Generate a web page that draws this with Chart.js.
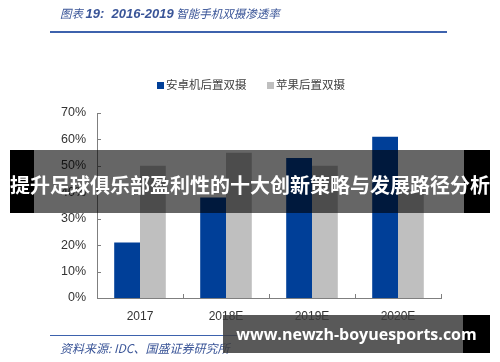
<!DOCTYPE html>
<html>
<head>
<meta charset="utf-8">
<script src="https://cdn.jsdelivr.net/npm/chart.js@4.4.1/dist/chart.umd.min.js"></script>
<style>
  html, body { margin:0; padding:0; background:#fff; }
  #wrap { position:relative; width:500px; height:362px; overflow:hidden; font-family:"Noto Sans CJK SC","Liberation Sans",sans-serif; }
  canvas { position:absolute; left:0; top:0; }
  .title { position:absolute; left:60px; top:5px; font-size:11.5px; color:#3a5598; font-style:italic; white-space:nowrap; }
  .title b { font-family:"Liberation Sans",sans-serif; font-weight:bold; font-size:13px; }
  .tline { position:absolute; left:50px; top:31px; width:397px; height:2px; background:#3d62ad; }
  .legend { position:absolute; top:76px; font-size:11.5px; color:#404040; white-space:nowrap; }
  .legend i { display:inline-block; width:7px; height:7px; margin-right:2px; vertical-align:0px; }
  .sline { position:absolute; left:50px; top:335px; width:200px; height:1px; background:#3d62ad; }
  .source { position:absolute; left:60px; top:339px; font-size:12px; color:#3a5598; font-style:italic; white-space:nowrap; }
  .band { position:absolute; left:10px; top:150px; width:480px; height:63px; background:rgba(0,0,0,0.6); }
  .bandL { position:absolute; left:10px; top:150px; width:24px; height:63px; background:#000; }
  .bandR { position:absolute; left:464px; top:150px; width:26px; height:63px; background:#000; }
  .bandText { position:absolute; left:10px; top:170px; width:480px; text-align:center; font-size:20px; font-weight:bold; color:#fff; white-space:nowrap; line-height:30px; }
  .wm { position:absolute; left:223px; top:315px; width:240px; height:38px; background:rgba(60,60,60,0.85); }
  .wmR { position:absolute; left:463px; top:315px; width:27px; height:38px; background:#000; }
  .wmText { position:absolute; left:223px; top:315px; width:267px; height:38px; line-height:38px; text-align:center; font-family:"Open Sans","DejaVu Sans",sans-serif; font-weight:bold; font-size:16px; color:#fff; white-space:nowrap; }
</style>
</head>
<body>
<div id="wrap">
  <canvas id="c" width="500" height="362"></canvas>
  <div class="title">图表 <b>19:&nbsp; 2016-2019</b> 智能手机双摄渗透率</div>
  <div class="tline"></div>
  <div class="legend" style="left:157px"><i style="background:#003f98"></i>安卓机后置双摄</div>
  <div class="legend" style="left:267px"><i style="background:#bfbfbf"></i>苹果后置双摄</div>
  <div class="sline"></div>
  <div class="source">资料来源: IDC、国盛证券研究所</div>
  <div class="band"></div>
  <div class="bandL"></div>
  <div class="bandR"></div>
  <div class="bandText">提升足球俱乐部盈利性的十大创新策略与发展路径分析</div>
  <div class="wm"></div>
  <div class="wmR"></div>
  <div class="wmText">www.newzh-boyuesports.com</div>
</div>
<script>
const categories = ["2017", "2018E", "2019E", "2020E"];
const androidDual = [21, 38, 53, 61];
const appleDual = [50, 55, 50, 41];
const seriesNames = ["安卓机后置双摄", "苹果后置双摄"];
const yTicks = [0, 10, 20, 30, 40, 50, 60, 70];

const innerTicks = {
  id: 'innerTicks',
  afterDraw(chart) {
    const ctx = chart.ctx, x = chart.scales.x, y = chart.scales.y;
    ctx.save();
    ctx.strokeStyle = '#7f7f7f';
    ctx.lineWidth = 1;
    ctx.beginPath();
    yTicks.forEach(v => {
      const py = Math.round(y.getPixelForValue(v)) + 0.5;
      ctx.moveTo(x.left, py); ctx.lineTo(x.left + 4, py);
    });
    const n = categories.length;
    for (let i = 0; i <= n; i++) {
      const px = Math.round(x.left + (x.right - x.left) * i / n) + 0.5;
      ctx.moveTo(px, y.bottom); ctx.lineTo(px, y.bottom - 4);
    }
    ctx.stroke();
    ctx.restore();
  }
};

new Chart(document.getElementById('c'), {
  type: 'bar',
  data: {
    labels: categories,
    datasets: [
      { label: seriesNames[0], data: androidDual, backgroundColor: '#003f98' },
      { label: seriesNames[1], data: appleDual, backgroundColor: '#bfbfbf' }
    ]
  },
  options: {
    responsive: false,
    animation: false,
    devicePixelRatio: 1,
    layout: { padding: { left: 0, right: 59, top: 113, bottom: 0 } },
    plugins: { legend: { display: false }, tooltip: { enabled: false } },
    datasets: { bar: { categoryPercentage: 0.6, barPercentage: 1.0 } },
    scales: {
      x: {
        grid: { display: false, drawTicks: false },
        border: { display: true, color: '#7f7f7f', width: 1 },
        ticks: { color: '#333', font: { family: 'Liberation Sans', size: 12 }, padding: 11 },
        afterFit(s) { s.height = 64; }
      },
      y: {
        min: 0, max: 70,
        grid: { display: false, drawTicks: false },
        border: { display: true, color: '#7f7f7f', width: 1 },
        afterBuildTicks(s) { s.ticks = yTicks.map(v => ({ value: v })); },
        ticks: { color: '#333', font: { family: 'Liberation Sans', size: 12.5 }, padding: 11, callback: v => v + '%' },
        afterFit(s) { s.width = 97; }
      }
    }
  },
  plugins: [innerTicks]
});
</script>
</body>
</html>
